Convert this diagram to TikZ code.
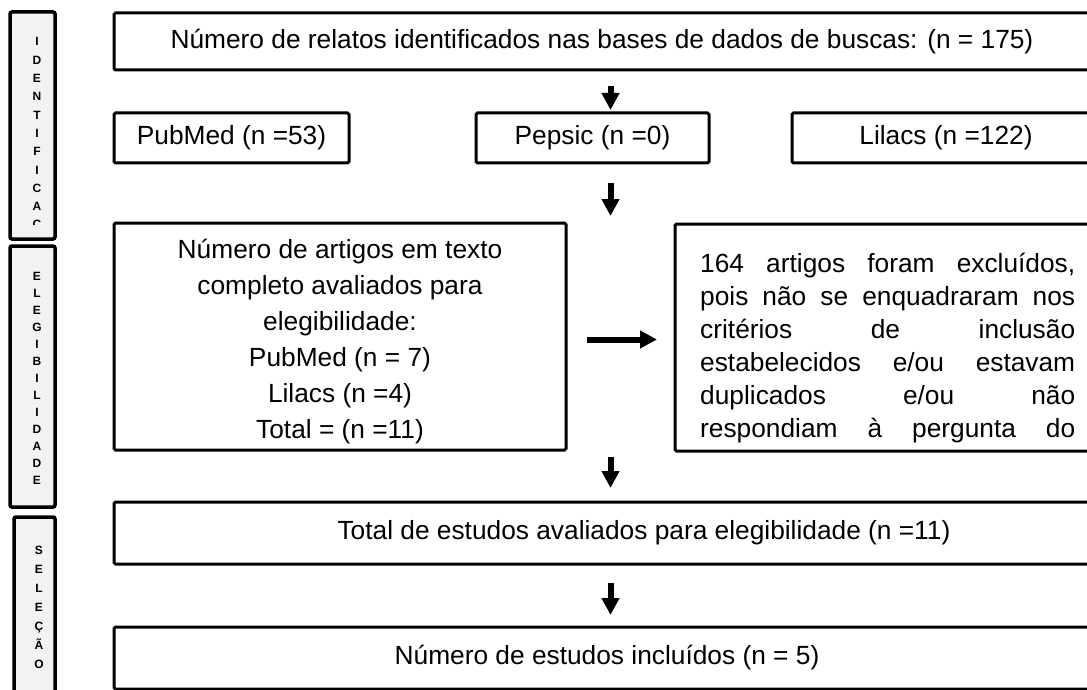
\documentclass[tikz,border=0pt]{standalone}
\usepackage{fontspec}
\setmainfont{Liberation Sans}
\usetikzlibrary{arrows.meta}
\definecolor{barfill}{HTML}{F2F2F2}
\tikzset{
  flowbox/.style={draw, line width=3pt, rounded corners=1.5pt, inner sep=0pt, align=center, font=\fontsize{26.3}{36}\selectfont},
  phasebar/.style={draw, line width=3.5pt, rounded corners=2pt, fill=barfill, inner sep=0pt},
  phasetext/.style={anchor=north, inner sep=0pt, align=center},
  flowarrow/.style={line width=6pt, -{Triangle[length=17pt,width=17pt]}},
}
\begin{document}
\begin{tikzpicture}[x=1pt, y=-1pt]
        \useasboundingbox (0,0) rectangle (1087,690);
        \clip (0,0) rectangle (1087,690);

        % Phase bars
        \node[phasebar, minimum width=45pt, minimum height=227pt] (idbar) at (32.5,125.5) {};
        \node[phasebar, minimum width=45pt, minimum height=261pt] (elbar) at (32.5,376.5) {};
        \node[phasebar, minimum width=41pt, minimum height=203pt] (sebar) at (34.5,618.5) {};
        \begin{scope}
            \clip (0,0) rectangle (80,224);
            \node[phasetext, font=\fontsize{12}{18.3}\selectfont\bfseries] (idtext) at (37,37.5) {I\\D\\E\\N\\T\\I\\F\\I\\C\\A\\Ç\\Ã\\O};
        \end{scope}
        \node[phasetext, font=\fontsize{12}{17}\selectfont\bfseries] (eltext) at (37,272.5) {E\\L\\E\\G\\I\\B\\I\\L\\I\\D\\A\\D\\E};
        \node[phasetext, font=\fontsize{12}{19}\selectfont\bfseries] (setext) at (39,545.5) {S\\E\\L\\E\\Ç\\Ã\\O};

        % Boxes
        \node[flowbox, minimum width=976pt, minimum height=57pt] (records) at (602,41.5) {Número de relatos identificados nas bases de dados de buscas: (n = 175)};
        \node[flowbox, minimum width=235pt, minimum height=50pt] (pubmed) at (231.5,138) {PubMed (n =53)};
        \node[flowbox, minimum width=233pt, minimum height=50pt] (pepsic) at (592.5,138) {Pepsic (n =0)};
        \node[flowbox, minimum width=308pt, minimum height=50pt] (lilacs) at (946,138) {Lilacs (n =122)};
        \node[flowbox, minimum width=452pt, minimum height=227pt] (fulltext) at (340,336.5) {\rule{0pt}{30pt}Número de artigos em texto\\completo avaliados para\\elegibilidade:\\PubMed (n = 7)\\Lilacs (n =4)\\Total = (n =11)};
        \node[flowbox, minimum width=425pt, minimum height=227pt] (excluded) at (887.5,337.5) {};
        \begin{scope}
            \clip (680,228) rectangle (1087,449.5);
            \node[anchor=north west, inner sep=0pt, align=left, font=\fontsize{26.3}{33}\selectfont] (exctext) at (700,248.9) {\strut\makebox[375pt][s]{164 artigos foram excluídos,}\\\makebox[375pt][s]{pois não se enquadraram nos}\\\makebox[375pt][s]{critérios de inclusão}\\\makebox[375pt][s]{estabelecidos e/ou estavam}\\\makebox[375pt][s]{duplicados e/ou não}\\\makebox[375pt][s]{respondiam à pergunta do}\\estudo.};
        \end{scope}
        \node[flowbox, minimum width=986pt, minimum height=62pt] (total) at (607,533) {\hspace*{74pt}Total de estudos avaliados para elegibilidade (n =11)};
        \node[flowbox, minimum width=986pt, minimum height=62pt] (included) at (607,658) {Número de estudos incluídos (n = 5)};

        % Arrows
        \coordinate (flowcol) at (610.5,0);
        \draw[flowarrow, shorten <=14.5pt, shorten >=1.5pt] (records.south -| flowcol) -- (pepsic.north -| flowcol);
        \draw[flowarrow, shorten <=18.5pt, shorten >=5.5pt] (pepsic.south -| flowcol) -- (fulltext.north -| flowcol);
        \draw[flowarrow, shorten <=19.5pt, shorten >=16.5pt] ([yshift=-3pt]fulltext.east) -- ([yshift=-3pt]fulltext.east -| excluded.west);
        \draw[flowarrow, shorten <=5.5pt, shorten >=12.5pt] (fulltext.south -| flowcol) -- (total.north -| flowcol);
        \draw[flowarrow, shorten <=17.5pt, shorten >=10.5pt] (total.south -| flowcol) -- (included.north -| flowcol);
    \end{tikzpicture}
\end{document}
